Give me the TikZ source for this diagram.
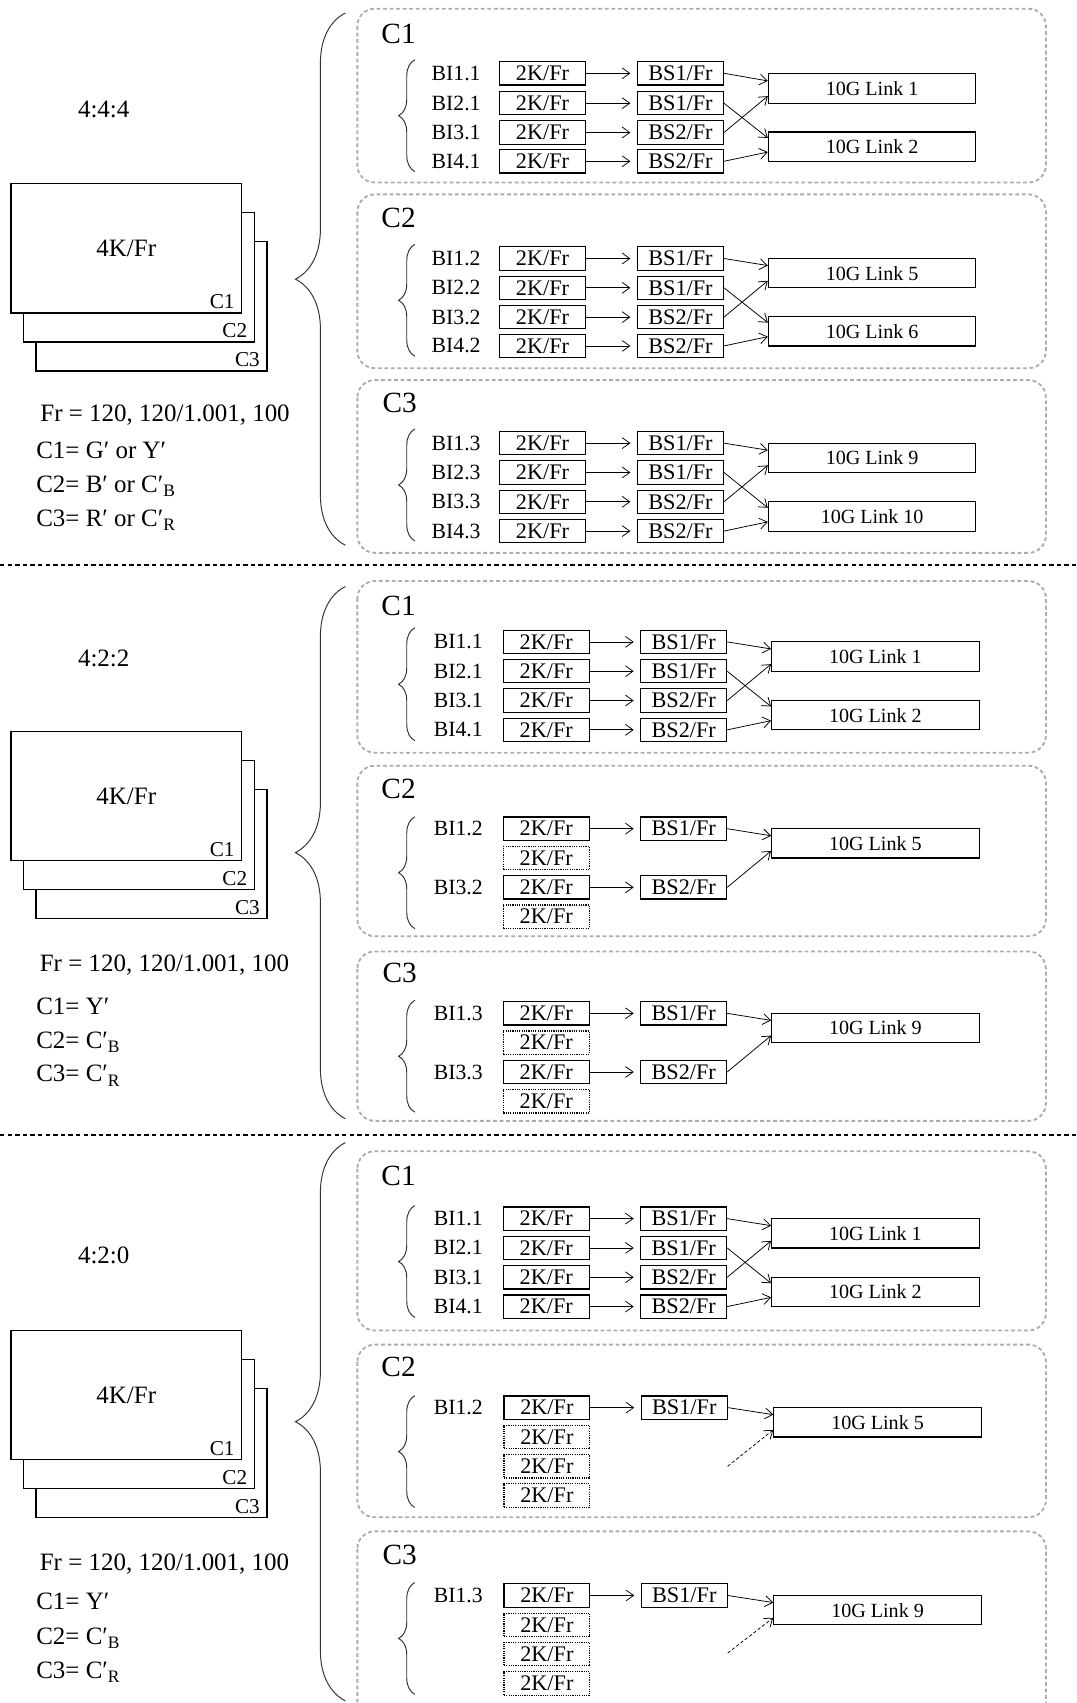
\documentclass[tikz,border=0pt]{standalone}
\usepackage{fontspec}
\setmainfont{Liberation Serif}
\usetikzlibrary{decorations.pathreplacing,arrows.meta}

\tikzset{
  grp/.style={draw=gray!65, line width=1.7pt, dash pattern=on 3.5pt off 2.5pt, rounded corners=16pt},
  sep/.style={line width=2pt, dash pattern=on 4pt off 3pt},
  brc/.style={decorate, decoration={brace, amplitude=#1}, line width=0.9pt, draw=black!80},
  blk/.style={draw, line width=1.1pt, minimum width=79pt, minimum height=21.5pt, inner sep=0pt, font=\fontsize{20.5}{20.5}\selectfont},
  blkd/.style={blk, densely dotted},
  lnk/.style={draw, line width=1.1pt, minimum width=191pt, minimum height=27pt, inner sep=0pt, font=\fontsize{18.5}{18.5}\selectfont},
  bi/.style={inner sep=0pt, font=\fontsize{20}{20}\selectfont},
  ttl/.style={inner sep=0pt, font=\fontsize{27}{27}\selectfont},
  big/.style={inner sep=0pt, font=\fontsize{23}{23}\selectfont},
  txt/.style={big, anchor=base west},
  frm/.style={draw, fill=white, line width=1.3pt, minimum width=212.5pt, minimum height=119pt, inner sep=0pt, font=\fontsize{23}{23}\selectfont},
  flab/.style={anchor=south east, inner xsep=7pt, inner ysep=4.5pt, font=\fontsize{19.5}{19.5}\selectfont},
  arr/.style={-{Straight Barb[length=7pt,width=10pt]}, line width=0.7pt},
  arrk/.style={arr, shorten >=6pt},
  arrd/.style={arr, dash pattern=on 3pt off 2pt}
}

\begin{document}
\begin{tikzpicture}[x=1pt,y=-1pt]
\clip (0,0) rectangle (991,1568);

% 4:4:4
\node[big, anchor=base] (anm) at (95.5,108.4) {4:4:4};
\node[frm] (af3) at (139.45,281.9) {};
\node[frm] (af2) at (127.85,255.2) {};
\node[frm] (af1) at (116.25,228.5) {4K/Fr};
\node[flab] (af1c) at (af1.south east) {C1};
\node[flab] (af2c) at (af2.south east) {C2};
\node[flab] (af3c) at (af3.south east) {C3};
\node[txt] (afr) at (37,388) {Fr = 120, 120/1.001, 100};
\node[txt] (ac1) at (33.2,422) {C1= G′ or Y′};
\node[txt] (ac2) at (33.2,453.5) {C2= B′ or C′\textsubscript{B}};
\node[txt] (ac3) at (33.2,484.5) {C3= R′ or C′\textsubscript{R}};
\draw[brc=46pt] (318,502) -- (318,12);

\draw[grp] (329,8) rectangle (963,168);
\node[ttl] (a1t) at (367,31) {C1};
\draw[brc=15pt] (382,158) -- (382,55);
\node[bi] (a1b1) at (420,67.5) {BI1.1};
\node[bi] (a1b2) at (420,95) {BI2.1};
\node[bi] (a1b3) at (420,122) {BI3.1};
\node[bi] (a1b4) at (420,148.5) {BI4.1};
\node[blk] (a1k1) at (499.5,67.5) {2K/Fr};
\node[blk] (a1k2) at (499.5,95) {2K/Fr};
\node[blk] (a1k3) at (499.5,122) {2K/Fr};
\node[blk] (a1k4) at (499.5,148.5) {2K/Fr};
\node[blk] (a1s1) at (626.5,67.5) {BS1/Fr};
\node[blk] (a1s2) at (626.5,95) {BS1/Fr};
\node[blk] (a1s3) at (626.5,122) {BS2/Fr};
\node[blk] (a1s4) at (626.5,148.5) {BS2/Fr};
\node[lnk] (a1l1) at (803,81.5) {10G Link 1};
\node[lnk] (a1l2) at (803,135) {10G Link 2};
\draw[arrk] (a1k1) -- (a1s1);
\draw[arrk] (a1k2) -- (a1s2);
\draw[arrk] (a1k3) -- (a1s3);
\draw[arrk] (a1k4) -- (a1s4);
\draw[arr] (a1s1.east) -- ([yshift=7]a1l1.west);
\draw[arr] (a1s2.east) -- ([yshift=8]a1l2.west);
\draw[arr] (a1s3.east) -- ([yshift=-7]a1l1.west);
\draw[arr] (a1s4.east) -- ([yshift=-5]a1l2.west);

\draw[grp] (329,179) rectangle (963,339);
\node[ttl] (a2t) at (367,201) {C2};
\draw[brc=15pt] (382,328) -- (382,225);
\node[bi] (a2b1) at (420,238) {BI1.2};
\node[bi] (a2b2) at (420,265) {BI2.2};
\node[bi] (a2b3) at (420,292) {BI3.2};
\node[bi] (a2b4) at (420,318.5) {BI4.2};
\node[blk] (a2k1) at (499.5,238) {2K/Fr};
\node[blk] (a2k2) at (499.5,265) {2K/Fr};
\node[blk] (a2k3) at (499.5,292) {2K/Fr};
\node[blk] (a2k4) at (499.5,318.5) {2K/Fr};
\node[blk] (a2s1) at (626.5,238) {BS1/Fr};
\node[blk] (a2s2) at (626.5,265) {BS1/Fr};
\node[blk] (a2s3) at (626.5,292) {BS2/Fr};
\node[blk] (a2s4) at (626.5,318.5) {BS2/Fr};
\node[lnk] (a2l1) at (803,251.5) {10G Link 5};
\node[lnk] (a2l2) at (803,305) {10G Link 6};
\draw[arrk] (a2k1) -- (a2s1);
\draw[arrk] (a2k2) -- (a2s2);
\draw[arrk] (a2k3) -- (a2s3);
\draw[arrk] (a2k4) -- (a2s4);
\draw[arr] (a2s1.east) -- ([yshift=7]a2l1.west);
\draw[arr] (a2s2.east) -- ([yshift=8]a2l2.west);
\draw[arr] (a2s3.east) -- ([yshift=-7]a2l1.west);
\draw[arr] (a2s4.east) -- ([yshift=-5]a2l2.west);

\draw[grp] (329,350) rectangle (963,509);
\node[ttl] (a3t) at (368,371) {C3};
\draw[brc=15pt] (382,498) -- (382,395);
\node[bi] (a3b1) at (420,408) {BI1.3};
\node[bi] (a3b2) at (420,435) {BI2.3};
\node[bi] (a3b3) at (420,462) {BI3.3};
\node[bi] (a3b4) at (420,489) {BI4.3};
\node[blk] (a3k1) at (499.5,408) {2K/Fr};
\node[blk] (a3k2) at (499.5,435) {2K/Fr};
\node[blk] (a3k3) at (499.5,462) {2K/Fr};
\node[blk] (a3k4) at (499.5,489) {2K/Fr};
\node[blk] (a3s1) at (626.5,408) {BS1/Fr};
\node[blk] (a3s2) at (626.5,435) {BS1/Fr};
\node[blk] (a3s3) at (626.5,462) {BS2/Fr};
\node[blk] (a3s4) at (626.5,489) {BS2/Fr};
\node[lnk] (a3l1) at (803,421.5) {10G Link 9};
\node[lnk] (a3l2) at (803,475.5) {10G Link 10};
\draw[arrk] (a3k1) -- (a3s1);
\draw[arrk] (a3k2) -- (a3s2);
\draw[arrk] (a3k3) -- (a3s3);
\draw[arrk] (a3k4) -- (a3s4);
\draw[arr] (a3s1.east) -- ([yshift=7]a3l1.west);
\draw[arr] (a3s2.east) -- ([yshift=8]a3l2.west);
\draw[arr] (a3s3.east) -- ([yshift=-7]a3l1.west);
\draw[arr] (a3s4.east) -- ([yshift=-5]a3l2.west);

\draw[sep] (0,520) -- (991,520);

% 4:2:2
\node[big, anchor=base] (bnm) at (95.5,614) {4:2:2};
\node[frm] (bf3) at (139.45,786.3) {};
\node[frm] (bf2) at (127.85,759.6) {};
\node[frm] (bf1) at (116.25,732.9) {4K/Fr};
\node[flab] (bf1c) at (bf1.south east) {C1};
\node[flab] (bf2c) at (bf2.south east) {C2};
\node[flab] (bf3c) at (bf3.south east) {C3};
\node[txt] (bfr) at (36.5,894.3) {Fr = 120, 120/1.001, 100};
\node[txt] (bc1) at (33.2,934) {C1= Y′};
\node[txt] (bc2) at (33.2,965) {C2= C′\textsubscript{B}};
\node[txt] (bc3) at (33.2,996.2) {C3= C′\textsubscript{R}};
\draw[brc=46pt] (318,1030) -- (318,540);

\draw[grp] (329,535) rectangle (963,693);
\node[ttl] (b1t) at (367,558) {C1};
\draw[brc=15pt] (382,682) -- (382,578);
\node[bi] (b1b1) at (422,591) {BI1.1};
\node[bi] (b1b2) at (422,618) {BI2.1};
\node[bi] (b1b3) at (422,645) {BI3.1};
\node[bi] (b1b4) at (422,672) {BI4.1};
\node[blk] (b1k1) at (503,591) {2K/Fr};
\node[blk] (b1k2) at (503,618) {2K/Fr};
\node[blk] (b1k3) at (503,645) {2K/Fr};
\node[blk] (b1k4) at (503,672) {2K/Fr};
\node[blk] (b1s1) at (629.5,591) {BS1/Fr};
\node[blk] (b1s2) at (629.5,618) {BS1/Fr};
\node[blk] (b1s3) at (629.5,645) {BS2/Fr};
\node[blk] (b1s4) at (629.5,672) {BS2/Fr};
\node[lnk] (b1l1) at (806,604.5) {10G Link 1};
\node[lnk] (b1l2) at (806,658.5) {10G Link 2};
\draw[arrk] (b1k1) -- (b1s1);
\draw[arrk] (b1k2) -- (b1s2);
\draw[arrk] (b1k3) -- (b1s3);
\draw[arrk] (b1k4) -- (b1s4);
\draw[arr] (b1s1.east) -- ([yshift=7]b1l1.west);
\draw[arr] (b1s2.east) -- ([yshift=8]b1l2.west);
\draw[arr] (b1s3.east) -- ([yshift=-7]b1l1.west);
\draw[arr] (b1s4.east) -- ([yshift=-5]b1l2.west);

\draw[grp] (329,705) rectangle (963,862);
\node[ttl] (b2t) at (367,726) {C2};
\draw[brc=15pt] (382,855) -- (382,752);
\node[bi] (b2b1) at (422,763) {BI1.2};
\node[bi] (b2b3) at (422,817) {BI3.2};
\node[blk] (b2k1) at (503,763) {2K/Fr};
\node[blkd] (b2k2) at (503,790) {2K/Fr};
\node[blk] (b2k3) at (503,817) {2K/Fr};
\node[blkd] (b2k4) at (503,844) {2K/Fr};
\node[blk] (b2s1) at (629.5,763) {BS1/Fr};
\node[blk] (b2s3) at (629.5,817) {BS2/Fr};
\node[lnk] (b2l1) at (806,776.5) {10G Link 5};
\draw[arrk] (b2k1) -- (b2s1);
\draw[arrk] (b2k3) -- (b2s3);
\draw[arr] (b2s1.east) -- ([yshift=7]b2l1.west);
\draw[arr] (b2s3.east) -- ([yshift=-7]b2l1.west);

\draw[grp] (329,876) rectangle (963,1032);
\node[ttl] (b3t) at (368,896) {C3};
\draw[brc=15pt] (382,1024) -- (382,921);
\node[bi] (b3b1) at (422,933) {BI1.3};
\node[bi] (b3b3) at (422,987) {BI3.3};
\node[blk] (b3k1) at (503,933) {2K/Fr};
\node[blkd] (b3k2) at (503,960) {2K/Fr};
\node[blk] (b3k3) at (503,987) {2K/Fr};
\node[blkd] (b3k4) at (503,1014) {2K/Fr};
\node[blk] (b3s1) at (629.5,933) {BS1/Fr};
\node[blk] (b3s3) at (629.5,987) {BS2/Fr};
\node[lnk] (b3l1) at (806,946.5) {10G Link 9};
\draw[arrk] (b3k1) -- (b3s1);
\draw[arrk] (b3k3) -- (b3s3);
\draw[arr] (b3s1.east) -- ([yshift=7]b3l1.west);
\draw[arr] (b3s3.east) -- ([yshift=-7]b3l1.west);

\draw[sep] (0,1045) -- (991,1045);

% 4:2:0
\node[big, anchor=base] (cnm) at (95.5,1163) {4:2:0};
\node[frm] (cf3) at (139.45,1337.8) {};
\node[frm] (cf2) at (127.85,1311.1) {};
\node[frm] (cf1) at (116.25,1284.4) {4K/Fr};
\node[flab] (cf1c) at (cf1.south east) {C1};
\node[flab] (cf2c) at (cf2.south east) {C2};
\node[flab] (cf3c) at (cf3.south east) {C3};
\node[txt] (cfr) at (36.5,1446) {Fr = 120, 120/1.001, 100};
\node[txt] (cc1) at (33.2,1482.2) {C1= Y′};
\node[txt] (cc2) at (33.2,1514.4) {C2= C′\textsubscript{B}};
\node[txt] (cc3) at (33.2,1545.7) {C3= C′\textsubscript{R}};
\draw[brc=46pt] (318,1566) -- (318,1052);

\draw[grp] (329,1060) rectangle (963,1225);
\node[ttl] (c1t) at (367,1083) {C1};
\draw[brc=15pt] (382,1213) -- (382,1110);
\node[bi] (c1b1) at (422,1122) {BI1.1};
\node[bi] (c1b2) at (422,1149) {BI2.1};
\node[bi] (c1b3) at (422,1176) {BI3.1};
\node[bi] (c1b4) at (422,1203) {BI4.1};
\node[blk] (c1k1) at (503,1122) {2K/Fr};
\node[blk] (c1k2) at (503,1149) {2K/Fr};
\node[blk] (c1k3) at (503,1176) {2K/Fr};
\node[blk] (c1k4) at (503,1203) {2K/Fr};
\node[blk] (c1s1) at (629.5,1122) {BS1/Fr};
\node[blk] (c1s2) at (629.5,1149) {BS1/Fr};
\node[blk] (c1s3) at (629.5,1176) {BS2/Fr};
\node[blk] (c1s4) at (629.5,1203) {BS2/Fr};
\node[lnk] (c1l1) at (806,1135.5) {10G Link 1};
\node[lnk] (c1l2) at (806,1189.5) {10G Link 2};
\draw[arrk] (c1k1) -- (c1s1);
\draw[arrk] (c1k2) -- (c1s2);
\draw[arrk] (c1k3) -- (c1s3);
\draw[arrk] (c1k4) -- (c1s4);
\draw[arr] (c1s1.east) -- ([yshift=7]c1l1.west);
\draw[arr] (c1s2.east) -- ([yshift=8]c1l2.west);
\draw[arr] (c1s3.east) -- ([yshift=-7]c1l1.west);
\draw[arr] (c1s4.east) -- ([yshift=-5]c1l2.west);

\draw[grp] (329,1238) rectangle (963,1397);
\node[ttl] (c2t) at (367,1259) {C2};
\draw[brc=15pt] (382,1388) -- (382,1285);
\node[bi] (c2b1) at (422,1296) {BI1.2};
\node[blk] (c2k1) at (503.5,1296) {2K/Fr};
\node[blkd] (c2k2) at (503.5,1323) {2K/Fr};
\node[blkd] (c2k3) at (503.5,1350) {2K/Fr};
\node[blkd] (c2k4) at (503.5,1377) {2K/Fr};
\node[blk] (c2s1) at (630,1296) {BS1/Fr};
\node[lnk] (c2l1) at (808,1309.5) {10G Link 5};
\coordinate (c2x) at (670,1350);
\draw[arrk] (c2k1) -- (c2s1);
\draw[arr] (c2s1.east) -- ([yshift=7]c2l1.west);
\draw[arrd] (c2x) -- ([yshift=-7]c2l1.west);

\draw[grp] (329,1410) rectangle (963,1590);
\node[ttl] (c3t) at (368,1432) {C3};
\draw[brc=15pt] (382,1560) -- (382,1457);
\node[bi] (c3b1) at (422,1469) {BI1.3};
\node[blk] (c3k1) at (503.5,1469) {2K/Fr};
\node[blkd] (c3k2) at (503.5,1496) {2K/Fr};
\node[blkd] (c3k3) at (503.5,1523) {2K/Fr};
\node[blkd] (c3k4) at (503.5,1550) {2K/Fr};
\node[blk] (c3s1) at (630,1469) {BS1/Fr};
\node[lnk] (c3l1) at (808,1482.5) {10G Link 9};
\coordinate (c3x) at (670,1522);
\draw[arrk] (c3k1) -- (c3s1);
\draw[arr] (c3s1.east) -- ([yshift=7]c3l1.west);
\draw[arrd] (c3x) -- ([yshift=-7]c3l1.west);
\end{tikzpicture}
\end{document}
